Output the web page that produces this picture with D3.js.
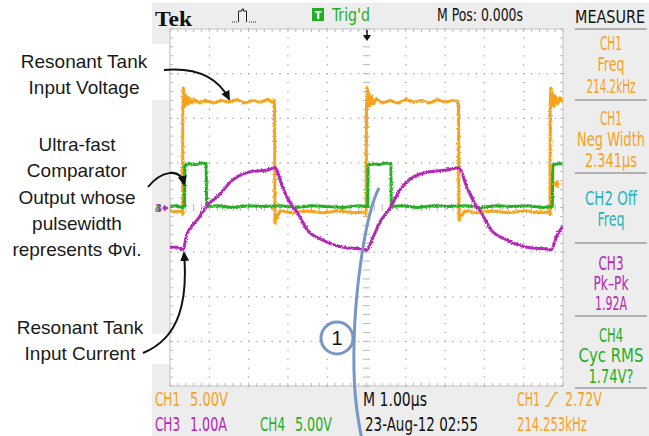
<!DOCTYPE html>
<html><head><meta charset="utf-8">
<script src="https://cdn.jsdelivr.net/npm/d3@7"></script>
<style>body{margin:0;background:#fff}svg{display:block}</style>
</head><body>
<svg id="c" width="649" height="436"></svg>
<script>
// ---------------- data ----------------
// CH1 (orange) resonant tank input voltage, time in µs, volts
const ch1Time = [-5.00,-4.80,-4.69,-4.68,-4.675,-4.66,-4.64,-4.62,-4.60,-4.57,-4.54,-4.50,-4.45,-4.38,-4.25,-4.10,-3.90,-3.70,-3.50,-3.30,-3.10,-2.90,-2.70,-2.50,-2.40,-2.34,-2.33,-2.32,-2.30,-2.27,-2.20,-1.90,-1.50,-1.10,-0.70,-0.30,-0.02,-0.01,0.00,0.02,0.04,0.06,0.09,0.13,0.18,0.25,0.40,0.60,0.80,1.00,1.20,1.40,1.60,1.80,2.00,2.20,2.34,2.35,2.36,2.38,2.42,2.50,2.80,3.20,3.60,4.00,4.40,4.66,4.67,4.675,4.69,4.71,4.74,4.77,4.81,4.86,4.92,5.00];
const ch1Volts = [0.1,0.0,0.1,-0.3,12.0,13.9,11.8,13.2,12.0,12.9,12.1,12.7,12.2,12.6,12.2,12.5,12.2,12.5,12.3,12.6,12.2,12.5,12.3,12.6,12.3,12.5,-0.8,-1.2,-0.3,-0.6,0.1,-0.1,0.1,-0.1,0.1,-0.1,0.0,-0.3,12.0,13.9,11.8,13.2,12.0,12.9,12.1,12.7,12.2,12.5,12.2,12.6,12.3,12.5,12.2,12.6,12.3,12.5,12.3,-0.6,-0.9,-0.2,-0.4,0.1,-0.1,0.1,-0.1,0.1,-0.1,0.0,-0.3,12.0,13.9,11.8,13.2,11.9,13.0,12.1,12.8,12.3];
// CH4 (green) comparator output, µs, volts
const ch4Time = [-5.00,-4.85,-4.70,-4.63,-4.62,-4.60,-4.50,-4.35,-4.20,-4.08,-4.07,-4.06,-3.80,-3.40,-3.00,-2.60,-2.20,-1.80,-1.40,-1.00,-0.60,-0.20,0.03,0.04,0.06,0.20,0.35,0.50,0.62,0.63,0.64,0.90,1.30,1.70,2.10,2.50,2.90,3.30,3.70,4.10,4.50,4.73,4.74,4.76,4.88,5.00];
const ch4Volts = [0.1,0.2,0.0,0.1,4.6,4.8,4.9,4.8,5.0,4.9,0.3,0.1,0.2,0.0,0.2,0.1,0.2,0.0,0.2,0.1,0.0,0.2,0.1,4.6,4.8,4.9,4.8,5.0,4.9,0.3,0.1,0.2,0.0,0.2,0.1,0.2,0.0,0.2,0.1,0.2,0.0,0.1,4.6,4.8,4.9,4.9];
// CH3 (magenta) resonant tank input current, µs, amps
const ch3Time = [-5.00,-4.80,-4.67,-4.57,-4.42,-4.31,-4.03,-3.80,-3.40,-2.96,-2.53,-2.33,-2.13,-1.95,-1.77,-1.51,-1.11,-0.75,-0.42,-0.09,0.01,0.17,0.34,0.60,0.85,1.18,1.62,2.05,2.35,2.56,2.74,2.91,3.17,3.58,3.93,4.26,4.59,4.70,4.85,5.00];
const ch3Amps = [-0.89,-0.89,-0.95,-0.59,-0.39,-0.28,0.08,0.24,0.62,0.80,0.84,0.89,0.44,0.12,-0.10,-0.50,-0.73,-0.86,-0.91,-0.93,-0.95,-0.66,-0.33,-0.01,0.39,0.68,0.80,0.84,0.89,0.44,0.12,-0.10,-0.50,-0.73,-0.86,-0.91,-0.93,-0.95,-0.62,-0.42];

// channel settings
const ch1Scale = 5.00, ch3Scale = 1.00, ch4Scale = 5.00;   // per division
const ch1Offset = -0.1, ch3Offset = 0, ch4Offset = 0;      // divisions

// texts
const headerTexts = {tek:"Tek", trig:"Trig'd", mpos:"M Pos: 0.000s", measure:"MEASURE"};
const measureLines = [["CH1","Freq","214.2kHz"],["CH1","Neg Width","2.341µs"],["CH2 Off","Freq"],["CH3","Pk–Pk","1.92A"],["CH4","Cyc RMS","1.74V?"]];
const statusTexts = ["CH1","5.00V","M 1.00µs","CH1","2.72V","CH3","1.00A","CH4","5.00V","23-Aug-12 02:55","214.253kHz"];
const annotVoltage = ["Resonant Tank","Input Voltage"];
const annotComparator = ["Ultra-fast","Comparator","Output whose","pulsewidth","represents Φvi."];
const annotCurrent = ["Resonant Tank","Input Current"];

// ---------------- drawing ----------------
const C = {orange:"#f7a21c", green:"#24b024", magenta:"#b526b8", cyan:"#24b4c0", bg:"#ededed", grid:"#a9a9a9", blue:"#7896c4"};
const NARROW = "'Liberation Sans Narrow','DejaVu Sans Condensed','Arial Narrow',sans-serif";
const svg = d3.select("#c");
const defs = svg.append("defs");
const f = defs.append("filter").attr("id","fz").attr("x","-2%").attr("y","-5%").attr("width","104%").attr("height","110%");
f.append("feTurbulence").attr("type","fractalNoise").attr("baseFrequency","0.8").attr("numOctaves",1).attr("seed",4).attr("result","n");
f.append("feDisplacementMap").attr("in","SourceGraphic").attr("in2","n").attr("scale",3.4).attr("xChannelSelector","R").attr("yChannelSelector","G");
defs.append("marker").attr("id","ah").attr("viewBox","0 0 10 10").attr("refX",8).attr("refY",5)
  .attr("markerWidth",5).attr("markerHeight",5).attr("orient","auto").attr("markerUnits","strokeWidth")
  .append("path").attr("d","M0,0.5 L10,5 L0,9.5 Z").attr("fill","#111");

const x = d3.scaleLinear().domain([-5,5]).range([170,563]);
const yDiv = d3.scaleLinear().domain([-4,4]).range([386,29]);

// scope background
svg.append("rect").attr("x",152).attr("y",3).attr("width",497).attr("height",433).attr("fill",C.bg);
// white patches behind annotation text
svg.append("rect").attr("x",150).attr("y",44).attr("width",19).attr("height",56).attr("fill","#fff");
svg.append("rect").attr("x",150).attr("y",334).attr("width",19).attr("height",30).attr("fill","#fff");

// plot area
svg.append("rect").attr("x",x(-5)).attr("y",yDiv(4)).attr("width",x(5)-x(-5)).attr("height",yDiv(-4)-yDiv(4))
  .attr("fill","#fff").attr("stroke","#c4c4c4").attr("stroke-width",1);

const g = svg.append("g");
const minorX = d3.range(-5,5.001,0.2), minorY = d3.range(-4,4.001,0.2);
d3.range(-4,5).forEach(i=>{ if(i===0) return;
  minorY.forEach(d=>g.append("rect").attr("x",x(i)-0.6).attr("y",yDiv(d)-0.6).attr("width",1.3).attr("height",1.3).attr("fill",C.grid));});
d3.range(-3,4).forEach(j=>{ if(j===0) return;
  minorX.forEach(t=>g.append("rect").attr("x",x(t)-0.6).attr("y",yDiv(j)-0.6).attr("width",1.3).attr("height",1.3).attr("fill",C.grid));});
minorY.forEach(d=>g.append("line").attr("x1",x(0)-3.5).attr("x2",x(0)+3.5).attr("y1",yDiv(d)).attr("y2",yDiv(d)).attr("stroke","#b8b8b8").attr("stroke-width",1));
minorX.forEach(t=>g.append("line").attr("y1",yDiv(0)-3.5).attr("y2",yDiv(0)+3.5).attr("x1",x(t)).attr("x2",x(t)).attr("stroke","#b8b8b8").attr("stroke-width",1));
minorX.forEach(t=>{g.append("line").attr("x1",x(t)).attr("x2",x(t)).attr("y1",yDiv(4)).attr("y2",yDiv(4)+3).attr("stroke","#b8b8b8");
  g.append("line").attr("x1",x(t)).attr("x2",x(t)).attr("y1",yDiv(-4)).attr("y2",yDiv(-4)-3).attr("stroke","#b8b8b8");});
minorY.forEach(d=>{g.append("line").attr("y1",yDiv(d)).attr("y2",yDiv(d)).attr("x1",x(-5)).attr("x2",x(-5)+3).attr("stroke","#b8b8b8");
  g.append("line").attr("y1",yDiv(d)).attr("y2",yDiv(d)).attr("x1",x(5)).attr("x2",x(5)-3).attr("stroke","#b8b8b8");});

// traces
const traces = svg.append("g").attr("clip-path","url(#clp)");
defs.append("clipPath").attr("id","clp").append("rect").attr("x",x(-5)).attr("y",yDiv(4)).attr("width",x(5)-x(-5)).attr("height",yDiv(-4)-yDiv(4));
function trace(ts, vs, scale, off, color, curve){
  const line = d3.line().x(d=>x(d[0])).y(d=>yDiv(d[1]/scale+off)).curve(curve||d3.curveLinear);
  const data = ts.map((t,i)=>[t,vs[i]]);
  traces.append("path").attr("d",line(data)).attr("fill","none").attr("stroke",color)
    .attr("stroke-width",3).attr("stroke-linejoin","round").attr("filter","url(#fz)");
}
trace(ch1Time, ch1Volts, ch1Scale, ch1Offset, C.orange);
trace(ch4Time, ch4Volts, ch4Scale, ch4Offset, C.green);
trace(ch3Time, ch3Amps, ch3Scale, ch3Offset, C.magenta, d3.curveMonotoneX);

// text helper: tall, narrow scope font via vertical stretch
function txt(s, xx, yy, color, size, len, opts){
  opts = opts||{};
  const sy = opts.sy||1;
  const t = svg.append("text").attr("transform",`translate(${xx},${yy}) scale(1,${sy})`).attr("fill",color).attr("font-size",size)
    .attr("font-family",opts.family||NARROW).text(s);
  if(len) t.attr("textLength",len).attr("lengthAdjust","spacingAndGlyphs");
  if(opts.weight) t.attr("font-weight",opts.weight);
  if(opts.anchor) t.attr("text-anchor",opts.anchor);
  return t;
}

// ground markers at left
txt("4",155,212,C.green,11,null,{weight:"bold"});
txt("3",155,212,C.magenta,11,null,{weight:"bold"}).attr("opacity",0.8);
svg.append("path").attr("d","M162,208 h3 M164,205.5 L168,208 L164,210.5 Z").attr("stroke",C.magenta).attr("fill",C.magenta).attr("stroke-width",1);
// trigger level marker right
svg.append("path").attr("d","M562,184 h-4 M558,180.5 L553,184 L558,187.5 Z").attr("stroke",C.orange).attr("fill",C.orange).attr("stroke-width",1.2);
// trigger position arrow
svg.append("path").attr("d","M367,30 V37").attr("stroke","#111").attr("stroke-width",1.5);
svg.append("path").attr("d","M363,35 L371,35 L367,41 Z").attr("fill","#111");

// header
txt(headerTexts.tek,155,26,"#111",22,37,{family:"'Liberation Serif','DejaVu Serif',serif",weight:"bold"});
svg.append("path").attr("d","M232,22 h1 M234,22 h1 M236,22 h1 M238.5,22 V11 h3.5 V9 h1.5 V11 h3 V22 M249,22 h1 M251,22 h1 M253,22 h1 M255,22 h1")
  .attr("stroke","#222").attr("fill","none").attr("stroke-width",1);
svg.append("rect").attr("x",312).attr("y",8).attr("width",12).attr("height",13).attr("fill","#22b022");
txt("T",318,19,"#fff",11,null,{anchor:"middle",weight:"bold"});
txt(headerTexts.trig,332,21,C.green,14,38,{sy:1.3});
txt(headerTexts.mpos,437,21,"#111",14,86,{sy:1.3});
txt(headerTexts.measure,575,23,"#111",14,70,{sy:1.3});

// measure panel
[29,100,173,243,316,388].forEach(yy=>svg.append("line").attr("x1",575).attr("x2",647).attr("y1",yy).attr("y2",yy).attr("stroke","#9c9c9c").attr("stroke-width",1.5));
const mColors=[C.orange,C.orange,C.cyan,C.magenta,C.green];
const mBase=[[50,71,93],[125,146,167],[205,226],[270,290,310],[342,362,383]];
const mWidths={"CH1":22,"Freq":27,"214.2kHz":49,"Neg Width":68,"2.341µs":52,"CH2 Off":52,"CH3":25,"Pk–Pk":35,"1.92A":32,"CH4":24,"Cyc RMS":65,"1.74V?":45};
measureLines.forEach((lines,i)=>lines.forEach((s,k)=>{
  txt(s,611-mWidths[s]/2,mBase[i][k],mColors[i],14,mWidths[s],{sy:1.35});
}));

// status bar
const ST={sy:1.35};
txt(statusTexts[0],155,406,C.orange,14,25,ST);
txt(statusTexts[1],190,406,C.orange,14,38,ST);
txt(statusTexts[2],363,406,"#111",14,64,ST);
txt(statusTexts[3],517,406,C.orange,14,23,ST);
svg.append("path").attr("d","M545,406 h3 L555,393 h3").attr("stroke",C.orange).attr("fill","none").attr("stroke-width",1.4);
txt(statusTexts[4],565,406,C.orange,14,37,ST);
txt(statusTexts[5],155,431,C.magenta,14,25,ST);
txt(statusTexts[6],190,431,C.magenta,14,37,ST);
txt(statusTexts[7],260,431,C.green,14,25,ST);
txt(statusTexts[8],295,431,C.green,14,37,ST);
txt(statusTexts[9],365,431,"#111",14,113,ST);
txt(statusTexts[10],517,431,C.orange,14,70,ST);

// annotations
const SANS="'Liberation Sans',Arial,sans-serif";
annotVoltage.forEach((s,i)=>txt(s,84,68+i*26,"#1a1a1a",19,null,{family:SANS,anchor:"middle"}));
annotComparator.forEach((s,i)=>txt(s,77,151+i*26.3,"#1a1a1a",19,null,{family:SANS,anchor:"middle"}));
annotCurrent.forEach((s,i)=>txt(s,80,334+i*26,"#1a1a1a",19,null,{family:SANS,anchor:"middle"}));
const arrows=["M164,70 Q212,66 229,99","M148,187 C160,172 180,166 184,184","M143,353 C180,338 188,300 184,253"];
arrows.forEach(d=>svg.append("path").attr("d",d).attr("fill","none").attr("stroke","#111").attr("stroke-width",2).attr("marker-end","url(#ah)"));

// blue callout
svg.append("path").attr("d","M379,188 C365,215 355,290 354,345 C353,390 357,415 362,440").attr("fill","none").attr("stroke",C.blue).attr("stroke-width",3);
svg.append("circle").attr("cx",337).attr("cy",338).attr("r",16).attr("fill","#fff").attr("stroke",C.blue).attr("stroke-width",3);
txt("1",337,345,"#111",20,null,{family:SANS,anchor:"middle"});
</script>
</body></html>
